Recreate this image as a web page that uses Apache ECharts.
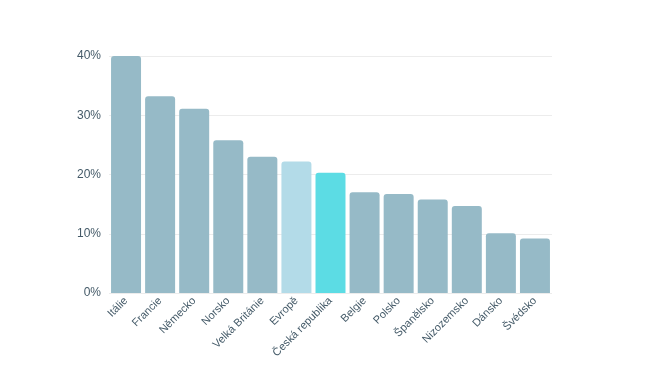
<!DOCTYPE html>
<html>
<head>
<meta charset="utf-8">
<script src="https://cdn.jsdelivr.net/npm/echarts@6/dist/echarts.min.js"></script>
<style>html,body{margin:0;padding:0;background:#fff}#c{width:654px;height:370px}</style>
</head>
<body>
<div id="c"></div>
<script>
const categories = ["Itálie","Francie","Německo","Norsko","Velká Británie","Evropě","Česká republika","Belgie","Polsko","Španělsko","Nizozemsko","Dánsko","Švédsko"];
const values = [40.0,33.2,31.1,25.8,23.0,22.2,20.3,17.0,16.7,15.8,14.7,10.1,9.2];
const yTicks = [0,10,20,30,40];

const baseColor = '#96bac7';
const highlight = {"Evropě":'#b3dbe8',"Česká republika":'#5cdce4'};

const chart = echarts.init(document.getElementById('c'));
chart.setOption({
  animation:false,
  grid:{left:109,right:102,top:56,bottom:77},
  xAxis:{
    type:'category',
    data:categories,
    axisLine:{show:false},
    axisTick:{show:false},
    axisLabel:{rotate:45,interval:0,color:'#445a68',fontSize:11,fontFamily:'"Liberation Sans", Arial, sans-serif',margin:6}
  },
  yAxis:{
    type:'value',min:yTicks[0],max:yTicks[yTicks.length-1],interval:10,
    axisLine:{show:false},axisTick:{show:false},
    splitLine:{lineStyle:{color:'#ececec',width:1}},
    axisLabel:{formatter:'{value}%',color:'#445a68',fontSize:12,fontFamily:'"Liberation Sans", Arial, sans-serif',margin:8}
  },
  series:[{
    type:'bar',
    barCategoryGap:'12%',
    data:values.map((v,i)=>({value:v,itemStyle:{color:highlight[categories[i]]||baseColor}})),
    itemStyle:{borderRadius:[3,3,0,0]}
  }]
});
</script>
</body>
</html>
